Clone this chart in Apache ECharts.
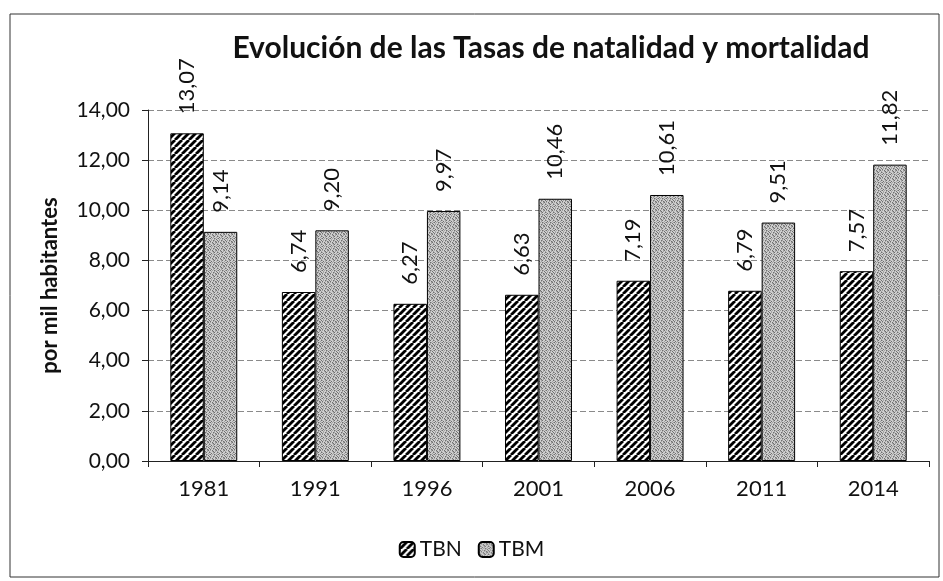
<!DOCTYPE html>
<html>
<head>
<meta charset="utf-8">
<script src="https://cdn.jsdelivr.net/npm/echarts@6/dist/echarts.min.js"></script>
<style>
  html, body { margin: 0; padding: 0; background: #fff; }
  #main { width: 943px; height: 581px; }
</style>
</head>
<body>
<div id="main"></div>
<script>
var years = ['1981', '1991', '1996', '2001', '2006', '2011', '2014'];
var tbn = [13.07, 6.74, 6.27, 6.63, 7.19, 6.79, 7.57];
var tbm = [9.14, 9.20, 9.97, 10.46, 10.61, 9.51, 11.82];
var yTicks = { min: 0, max: 14, interval: 2 };

// hatch "/" for TBN
function stripePattern() {
  var c = document.createElement('canvas');
  c.width = 7; c.height = 7;
  var ctx = c.getContext('2d');
  ctx.fillStyle = '#fff';
  ctx.fillRect(0, 0, 7, 7);
  ctx.strokeStyle = '#000';
  ctx.lineWidth = 2.8;
  [-7, 0, 7].forEach(function (o) {
    ctx.beginPath();
    ctx.moveTo(o, 7);
    ctx.lineTo(o + 7, 0);
    ctx.stroke();
  });
  return c;
}

// grey stipple for TBM
function stipplePattern() {
  var m = [
    '.#.:.#:.',
    ':.#..:.#',
    '#.:.#..:',
    '.:..:#.:',
    '.#:..:#.',
    ':..#.:..',
    '.:#.:.#:',
    '#..:..:.'
  ];
  var c = document.createElement('canvas');
  c.width = 8; c.height = 8;
  var ctx = c.getContext('2d');
  var cols = { '.': '#cfcfcf', ':': '#a2a2a2', '#': '#707070' };
  for (var y = 0; y < 8; y++) {
    for (var x = 0; x < 8; x++) {
      ctx.fillStyle = cols[m[y][x]];
      ctx.fillRect(x, y, 1, 1);
    }
  }
  return c;
}

function fmt(v) { return Number(v).toFixed(2).replace('.', ','); }

var chart = echarts.init(document.getElementById('main'));
var font = 'Lato, "Open Sans", sans-serif';

var barLabel = {
  show: true,
  position: 'top',
  distance: 19,
  rotate: 90,
  align: 'left',
  verticalAlign: 'middle',
  fontFamily: font,
  fontSize: 22,
  color: '#111',
  formatter: function (p) { return fmt(p.value); }
};

var option = {
  backgroundColor: '#fff',
  animation: false,
  textStyle: { fontFamily: font },
  title: {
    text: 'Evolución de las Tasas de natalidad y mortalidad',
    left: 546,
    textAlign: 'center',
    top: 28,
    textStyle: { fontFamily: font, fontSize: 30, fontWeight: 'bold', color: '#111' }
  },
  legend: {
    bottom: 16,
    left: 'center',
    itemWidth: 15,
    itemHeight: 15,
    itemGap: 16,
    textStyle: { fontFamily: font, fontSize: 21, color: '#111' },
    data: ['TBN', 'TBM']
  },
  grid: { left: 148, right: 14, top: 110, bottom: 120 },
  xAxis: {
    type: 'category',
    data: years,
    axisLine: { lineStyle: { color: '#222', width: 1 } },
    axisTick: { show: true, length: 6, lineStyle: { color: '#222' } },
    axisLabel: { fontFamily: font, fontSize: 22, color: '#111', margin: 17 }
  },
  yAxis: {
    type: 'value',
    min: yTicks.min,
    max: yTicks.max,
    interval: yTicks.interval,
    name: 'por mil habitantes',
    nameLocation: 'middle',
    nameGap: 87,
    nameTextStyle: { fontFamily: font, fontSize: 22, fontWeight: 'bold', color: '#111' },
    axisLine: { show: true, lineStyle: { color: '#222', width: 1 } },
    axisTick: { show: true, length: 6, lineStyle: { color: '#222' } },
    axisLabel: { fontFamily: font, fontSize: 21, color: '#111', margin: 18, formatter: fmt },
    splitLine: { lineStyle: { color: '#8a8a8a', type: [6, 3], width: 1 } }
  },
  graphic: [{
    type: 'rect',
    shape: { x: 10, y: 14, width: 929, height: 563 },
    style: { fill: 'none', stroke: '#333', lineWidth: 1 },
    silent: true
  }],
  series: [
    {
      name: 'TBN',
      type: 'bar',
      data: tbn,
      barGap: '0%',
      barCategoryGap: '40%',
      itemStyle: {
        color: { image: stripePattern(), repeat: 'repeat' },
        borderColor: '#000',
        borderWidth: 1
      },
      label: barLabel
    },
    {
      name: 'TBM',
      type: 'bar',
      data: tbm,
      barGap: '0%',
      barCategoryGap: '40%',
      itemStyle: {
        color: { image: stipplePattern(), repeat: 'repeat' },
        borderColor: '#000',
        borderWidth: 1
      },
      label: barLabel
    }
  ]
};

chart.setOption(option);
</script>
</body>
</html>
